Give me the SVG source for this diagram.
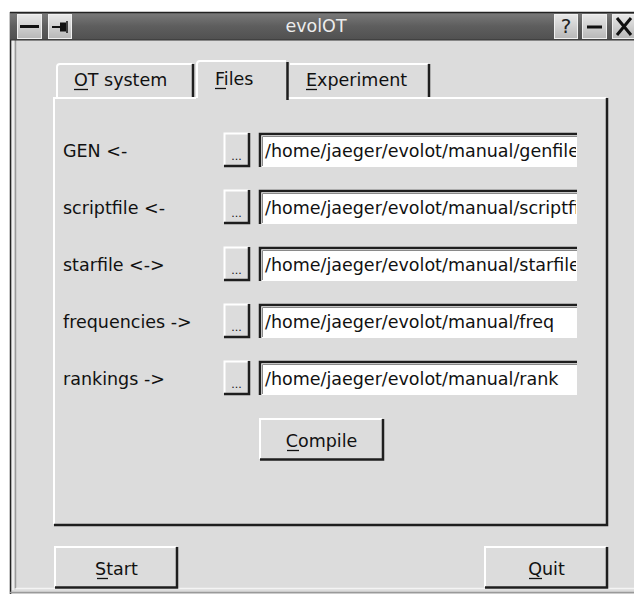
<svg xmlns="http://www.w3.org/2000/svg" width="634" height="594" viewBox="0 0 634 594">
<defs>
<linearGradient id="tb" x1="0" y1="0" x2="0" y2="1">
<stop offset="0" stop-color="#7c7c7c"/>
<stop offset="0.5" stop-color="#5e5e5e"/>
<stop offset="1" stop-color="#505050"/>
</linearGradient>
<linearGradient id="tbb" x1="0" y1="0" x2="0" y2="1">
<stop offset="0" stop-color="#e8e8e8"/>
<stop offset="1" stop-color="#b8b8b8"/>
</linearGradient>
<clipPath id="entryclip"><rect x="259" y="0" width="317" height="594"/></clipPath>
</defs>
<style>
text{font-family:"DejaVu Sans","Liberation Sans",sans-serif;font-size:17.5px;fill:#111}
.title{fill:#ececec;font-size:17.5px}
.hi{stroke:#ffffff;stroke-width:2;fill:none}
.sh{stroke:#1e1e1e;stroke-width:2.5;fill:none}
.mid{stroke:#8a8a8a;stroke-width:1;fill:none}
.ul{stroke:#111;stroke-width:1.3}
.btnface{fill:#dcdcdc}
.entry{fill:#ffffff}
.etext{clip-path:url(#entryclip)}
.dots{font-size:11px}
</style>
<rect x="0" y="0" width="634" height="594" fill="#ffffff"/>
<rect x="10" y="12" width="624" height="582" fill="#dcdcdc"/>
<g id="frame">
<line x1="10.5" y1="12" x2="10.5" y2="594" stroke="#222" stroke-width="1.5"/>
<line x1="13" y1="40" x2="13" y2="590" stroke="#f4f4f4" stroke-width="1.5"/>
<line x1="15.5" y1="40" x2="15.5" y2="588" stroke="#9a9a9a" stroke-width="1.5"/>
<line x1="16" y1="588.5" x2="634" y2="588.5" stroke="#f4f4f4" stroke-width="1.5"/>
<line x1="10" y1="592.5" x2="634" y2="592.5" stroke="#9a9a9a" stroke-width="1.5"/>
</g>
<g id="titlebar">
<rect x="10" y="12" width="624" height="28" fill="url(#tb)"/>
<line x1="10" y1="12.5" x2="634" y2="12.5" stroke="#222" stroke-width="1.5"/>
<line x1="10" y1="40" x2="634" y2="40" stroke="#333" stroke-width="1"/>
<text class="title" x="316" y="32" text-anchor="middle">evolOT</text>
<g id="btn-menu">
<rect x="17.5" y="14.5" width="24" height="24" fill="url(#tbb)" stroke="#f0f0f0" stroke-width="1"/>
<line x1="20" y1="26.5" x2="39" y2="26.5" stroke="#111" stroke-width="3"/>
</g>
<g id="btn-pin">
<rect x="48.5" y="14.5" width="23" height="24" fill="url(#tbb)" stroke="#f0f0f0" stroke-width="1"/>
<line x1="52" y1="27" x2="61" y2="27" stroke="#111" stroke-width="2"/>
<rect x="60" y="22.5" width="6" height="9" fill="#111"/>
<line x1="67" y1="21" x2="67" y2="33" stroke="#111" stroke-width="1.5"/>
</g>
<g id="btn-help">
<rect x="554.5" y="14.5" width="23" height="24" fill="url(#tbb)" stroke="#f0f0f0" stroke-width="1"/>
<text x="566" y="33" text-anchor="middle" style="font-size:20px;fill:#222">?</text>
</g>
<g id="btn-min">
<rect x="582.5" y="14.5" width="24" height="24" fill="url(#tbb)" stroke="#f0f0f0" stroke-width="1"/>
<line x1="587" y1="27" x2="602" y2="27" stroke="#111" stroke-width="3"/>
</g>
<g id="btn-close">
<rect x="612.5" y="14.5" width="24" height="24" fill="url(#tbb)" stroke="#f0f0f0" stroke-width="1"/>
<path d="M617 18 L631 35 M631 18 L617 35" stroke="#111" stroke-width="3" fill="none"/>
</g>
</g>
<g id="panel">
<path class="hi" d="M54 524 L54 98 L196 98 M288 98 L606 98"/>
<path class="sh" d="M54 525 L607 525 L607 98"/>
</g>
<g id="tab-ot">
<path class="hi" d="M57 98 L57 67 Q57 64 60 64 L192 64"/>
<line class="sh" x1="193" y1="64" x2="193" y2="97"/>
<text x="74" y="86">OT system</text>
<line class="ul" x1="74" y1="89.5" x2="88" y2="89.5"/>
</g>
<g id="tab-files">
<path class="hi" d="M197 98 L197 64 Q197 61 200 61 L286 61"/>
<line class="sh" x1="287.5" y1="62" x2="287.5" y2="100"/>
<text x="215" y="85">Files</text>
<line class="ul" x1="215" y1="88.5" x2="226" y2="88.5"/>
</g>
<g id="tab-experiment">
<path class="hi" d="M290 64 L428 64"/>
<line class="sh" x1="429" y1="64" x2="429" y2="97"/>
<text x="306" y="86">Experiment</text>
<line class="ul" x1="306" y1="89.5" x2="317" y2="89.5"/>
</g>
<g id="row-gen">
<text x="63" y="157">GEN &lt;-</text>
<rect class="btnface" x="224" y="133" width="25" height="33"/>
<path class="hi" d="M224.5 165 L224.5 133.5 L248 133.5"/>
<path class="sh" d="M224 166 L249 166 L249 133"/>
<text class="dots" x="236.5" y="160" text-anchor="middle">...</text>
<rect class="entry" x="259" y="133" width="318" height="34"/>
<path class="sh" d="M260 167 L260 134 L577 134"/>
<path class="mid" d="M262.5 166 L262.5 136.5 L577 136.5"/>
<text class="etext" x="265" y="157">/home/jaeger/evolot/manual/genfile</text>
</g>
<g id="row-script">
<text x="63" y="214">scriptfile &lt;-</text>
<rect class="btnface" x="224" y="190" width="25" height="33"/>
<path class="hi" d="M224.5 222 L224.5 190.5 L248 190.5"/>
<path class="sh" d="M224 223 L249 223 L249 190"/>
<text class="dots" x="236.5" y="217" text-anchor="middle">...</text>
<rect class="entry" x="259" y="190" width="318" height="34"/>
<path class="sh" d="M260 224 L260 191 L577 191"/>
<path class="mid" d="M262.5 223 L262.5 193.5 L577 193.5"/>
<text class="etext" x="265" y="214">/home/jaeger/evolot/manual/scriptfi</text>
</g>
<g id="row-star">
<text x="63" y="271">starfile &lt;-&gt;</text>
<rect class="btnface" x="224" y="247" width="25" height="33"/>
<path class="hi" d="M224.5 279 L224.5 247.5 L248 247.5"/>
<path class="sh" d="M224 280 L249 280 L249 247"/>
<text class="dots" x="236.5" y="274" text-anchor="middle">...</text>
<rect class="entry" x="259" y="247" width="318" height="34"/>
<path class="sh" d="M260 281 L260 248 L577 248"/>
<path class="mid" d="M262.5 280 L262.5 250.5 L577 250.5"/>
<text class="etext" x="265" y="271">/home/jaeger/evolot/manual/starfile</text>
</g>
<g id="row-freq">
<text x="63" y="328">frequencies -&gt;</text>
<rect class="btnface" x="224" y="304" width="25" height="33"/>
<path class="hi" d="M224.5 336 L224.5 304.5 L248 304.5"/>
<path class="sh" d="M224 337 L249 337 L249 304"/>
<text class="dots" x="236.5" y="331" text-anchor="middle">...</text>
<rect class="entry" x="259" y="304" width="318" height="34"/>
<path class="sh" d="M260 338 L260 305 L577 305"/>
<path class="mid" d="M262.5 337 L262.5 307.5 L577 307.5"/>
<text class="etext" x="265" y="328">/home/jaeger/evolot/manual/freq</text>
</g>
<g id="row-rank">
<text x="63" y="385">rankings -&gt;</text>
<rect class="btnface" x="224" y="361" width="25" height="33"/>
<path class="hi" d="M224.5 393 L224.5 361.5 L248 361.5"/>
<path class="sh" d="M224 394 L249 394 L249 361"/>
<text class="dots" x="236.5" y="388" text-anchor="middle">...</text>
<rect class="entry" x="259" y="361" width="318" height="34"/>
<path class="sh" d="M260 395 L260 362 L577 362"/>
<path class="mid" d="M262.5 394 L262.5 364.5 L577 364.5"/>
<text class="etext" x="265" y="385">/home/jaeger/evolot/manual/rank</text>
</g>
<g id="btn-compile">
<path class="hi" d="M260 459 L260 419 L382 419"/>
<path class="sh" d="M260 459.5 L383 459.5 L383 419"/>
<text x="321.5" y="447" text-anchor="middle">Compile</text>
<line class="ul" x1="287" y1="450.5" x2="299" y2="450.5"/>
</g>
<g id="btn-start">
<path class="hi" d="M55 587 L55 547 L176 547"/>
<path class="sh" d="M55 587.5 L177 587.5 L177 547"/>
<text x="116.5" y="575" text-anchor="middle">Start</text>
<line class="ul" x1="97" y1="578.5" x2="108" y2="578.5"/>
</g>
<g id="btn-quit">
<path class="hi" d="M485 587 L485 547 L606 547"/>
<path class="sh" d="M485 587.5 L607 587.5 L607 547"/>
<text x="546.5" y="575" text-anchor="middle">Quit</text>
<line class="ul" x1="529" y1="578.5" x2="542" y2="578.5"/>
</g>
</svg>
